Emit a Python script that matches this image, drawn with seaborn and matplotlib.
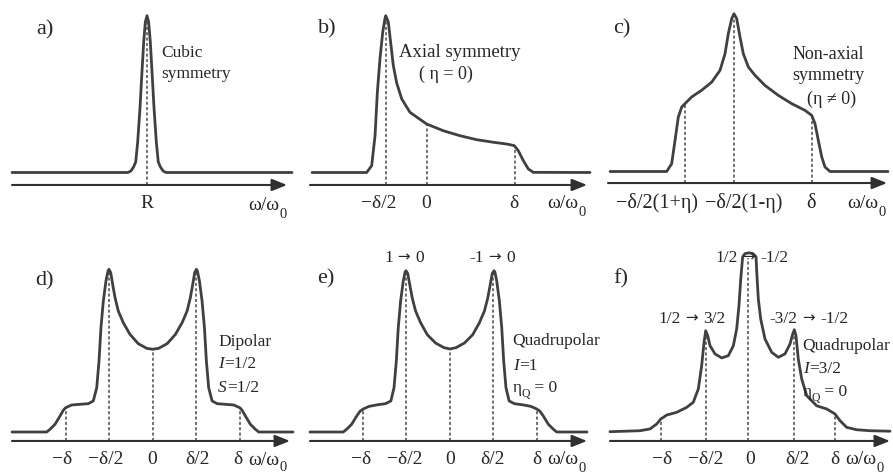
import matplotlib
matplotlib.use("Agg")
import matplotlib.pyplot as plt
import seaborn as sns

sns.set_style("white")
plt.rcParams["font.family"] = ["Liberation Serif", "DejaVu Serif"]

# ---------------- data (x in units of delta, y = relative intensity) ----------------
a_x = [-1.534, -0.216, -0.182, -0.153, -0.128, -0.106, -0.080, -0.060, -0.0375, -0.019, 0.0,
       0.019, 0.0375, 0.060, 0.080, 0.106, 0.128, 0.153, 0.182, 0.216, 1.648]
a_y = [0, 0, 0.01, 0.034, 0.066, 0.19, 0.40, 0.60, 0.816, 0.94, 0.98,
       0.94, 0.816, 0.60, 0.40, 0.19, 0.066, 0.034, 0.01, 0, 0]
a_marks = [0.0]
a_marks_top = [0.98]
a_ticks = ["R"]

b_x = [-1.303, -0.682, -0.625, -0.587, -0.561, -0.531, -0.500, -0.475, -0.465, -0.436, -0.409,
       -0.380, -0.341, -0.284, -0.190, 0.0, 0.189, 0.378, 0.568, 0.757, 0.909, 0.995, 1.040,
       1.098, 1.155, 1.211, 1.856]
b_y = [0, 0, 0.043, 0.23, 0.50, 0.71, 0.876, 0.96, 0.98, 0.94, 0.81,
       0.67, 0.56, 0.46, 0.376, 0.303, 0.261, 0.23, 0.205, 0.189, 0.178, 0.168, 0.137,
       0.074, 0.022, 0.001, 0]
b_marks = [-0.466, 0.0, 1.0]
b_marks_top = [0.98, 0.303, 0.168]
b_ticks = ["\u2212\u03b4/2", "0", "\u03b4"]

c_x = [-1.409, -0.765, -0.708, -0.670, -0.633, -0.594, -0.557, -0.481, -0.367, -0.253, -0.159,
       -0.102, -0.065, -0.026, 0.0, 0.031, 0.068, 0.106, 0.163, 0.239, 0.352, 0.503, 0.656,
       0.807, 0.883, 0.920, 0.958, 0.997, 1.034, 1.091, 1.75]
c_y = [0, 0, 0.049, 0.195, 0.34, 0.403, 0.424, 0.466, 0.508, 0.559, 0.632,
       0.736, 0.861, 0.955, 0.986, 0.955, 0.841, 0.736, 0.653, 0.601, 0.538, 0.476, 0.424,
       0.382, 0.351, 0.30, 0.195, 0.091, 0.028, 0, 0]
c_marks = [-0.557, 0.0, 0.89]
c_marks_top = [0.424, 0.986, 0.351]
c_ticks = ["\u2212\u03b4/2(1+\u03b7)", "\u2212\u03b4/2(1-\u03b7)", "\u03b4"]

d_x = [-1.599, -1.205, -1.167, -1.110, -1.053, -1.016, -0.989, -0.920, -0.826, -0.732, -0.675,
       -0.636, -0.610, -0.588, -0.561, -0.531, -0.508, -0.497, -0.477, -0.455, -0.428, -0.391,
       -0.334, -0.258, -0.164, -0.068, 0.0, 0.068, 0.164, 0.258, 0.334, 0.391, 0.428, 0.455,
       0.477, 0.497, 0.508, 0.531, 0.561, 0.588, 0.610, 0.636, 0.675, 0.732, 0.826, 0.920,
       0.989, 1.016, 1.053, 1.110, 1.167, 1.205, 1.594]
d_y = [0, 0, 0.017, 0.048, 0.10, 0.136, 0.152, 0.169, 0.173, 0.177, 0.194,
       0.277, 0.444, 0.652, 0.819, 0.944, 1.006, 1.017, 0.996, 0.923, 0.840, 0.756,
       0.683, 0.610, 0.552, 0.523, 0.517, 0.523, 0.552, 0.610, 0.683, 0.756, 0.840, 0.923,
       0.996, 1.017, 1.006, 0.944, 0.819, 0.652, 0.444, 0.277, 0.194, 0.177, 0.173, 0.169,
       0.152, 0.136, 0.10, 0.048, 0.017, 0, 0]
d_marks = [-0.989, -0.497, 0.0, 0.497, 0.989]
d_marks_top = [0.152, 1.017, 0.517, 1.017, 0.152]
d_ticks = ["\u2212\u03b4", "\u2212\u03b4/2", "0", "\u03b4/2", "\u03b4"]

e_x = [-1.591, -1.213, -1.175, -1.118, -1.060, -1.022, -0.985, -0.920, -0.826, -0.732, -0.672,
       -0.636, -0.610, -0.588, -0.561, -0.531, -0.510, -0.500, -0.480, -0.455, -0.428, -0.391,
       -0.334, -0.258, -0.164, -0.068, 0.0, 0.068, 0.164, 0.258, 0.334, 0.391, 0.428, 0.455,
       0.480, 0.500, 0.510, 0.531, 0.561, 0.588, 0.610, 0.636, 0.672, 0.732, 0.826, 0.920,
       0.985, 1.022, 1.060, 1.118, 1.175, 1.213, 1.557]
e_y = [0, 0, 0.017, 0.048, 0.10, 0.130, 0.144, 0.160, 0.170, 0.177, 0.194,
       0.277, 0.444, 0.652, 0.819, 0.944, 1.000, 1.008, 0.990, 0.914, 0.835, 0.756,
       0.683, 0.608, 0.556, 0.527, 0.519, 0.527, 0.556, 0.608, 0.683, 0.756, 0.835, 0.914,
       0.990, 1.008, 1.000, 0.944, 0.819, 0.652, 0.444, 0.277, 0.194, 0.177, 0.170, 0.160,
       0.144, 0.130, 0.10, 0.048, 0.017, 0, 0]
e_marks = [-0.985, -0.500, 0.0, 0.490, 0.990]
e_marks_top = [0.144, 1.008, 0.519, 1.008, 0.144]
e_ticks = ["\u2212\u03b4", "\u2212\u03b4/2", "0", "\u03b4/2", "\u03b4"]

f_x = [-1.580, -1.239, -1.125, -1.049, -1.003, -0.935, -0.822, -0.708, -0.633, -0.576, -0.538,
       -0.511, -0.492, -0.469, -0.443, -0.386, -0.310, -0.235, -0.178, -0.140, -0.114, -0.094,
       -0.076, -0.072, -0.045, 0.0, 0.045, 0.080, 0.088, 0.106, 0.133, 0.182, 0.258, 0.333,
       0.409, 0.466, 0.497, 0.515, 0.534, 0.560, 0.599, 0.656, 0.769, 0.883, 0.977, 1.034,
       1.110, 1.224, 1.375, 1.602]
f_y = [0.002, 0.008, 0.019, 0.05, 0.081, 0.106, 0.123, 0.154, 0.186, 0.269, 0.414,
       0.560, 0.633, 0.602, 0.539, 0.488, 0.463, 0.477, 0.539, 0.644, 0.789, 0.956,
       1.070, 1.095, 1.115, 1.12, 1.115, 1.095, 1.0, 0.831, 0.706, 0.581, 0.498, 0.467,
       0.488, 0.55, 0.613, 0.639, 0.602, 0.456, 0.331, 0.227, 0.164, 0.144, 0.113, 0.071,
       0.029, 0.014, 0.008, 0.005]
f_marks = [-1.003, -0.492, -0.008, 0.515, 0.977]
f_marks_top = [0.081, 0.633, 1.09, 0.639, 0.113]
f_ticks = ["\u2212\u03b4", "\u2212\u03b4/2", "0", "\u03b4/2", "\u03b4"]

# ---------------- layout ----------------
W, H = 893, 477
SX, SY = 88.0, 160.0
CURVE = "#404040"
DASH = "#4a4a4a"
AXC = "#303030"
TXT = "#262626"
FAM = ["Liberation Serif", "DejaVu Serif"]
ARW = ["DejaVu Sans"]

fig = plt.figure(figsize=(W / 100, H / 100), dpi=100)
fig.patch.set_facecolor("white")
renderer = fig.canvas.get_renderer()

panels = [
    dict(box=(0, 0, 298, 238), cx=147, by=173.5, x=a_x, y=a_y, m=a_marks, t=a_marks_top,
         ar=(-1.534, 1.591), ay=-0.078),
    dict(box=(298, 0, 598, 238), cx=426.7, by=173.5, x=b_x, y=b_y, m=b_marks, t=b_marks_top,
         ar=(-1.326, 1.822), ay=-0.078),
    dict(box=(598, 0, 893, 238), cx=734, by=172.5, x=c_x, y=c_y, m=c_marks, t=c_marks_top,
         ar=(-1.432, 1.739), ay=-0.072),
    dict(box=(0, 238, 298, 477), cx=152.7, by=433, x=d_x, y=d_y, m=d_marks, t=d_marks_top,
         ar=(-1.599, 1.560), ay=-0.056),
    dict(box=(298, 238, 598, 477), cx=450, by=433, x=e_x, y=e_y, m=e_marks, t=e_marks_top,
         ar=(-1.591, 1.557), ay=-0.056),
    dict(box=(598, 238, 893, 477), cx=749, by=433, x=f_x, y=f_y, m=f_marks, t=f_marks_top,
         ar=(-1.580, 1.602), ay=-0.056),
]

for p in panels:
    x0, y0, x1, y1 = p["box"]
    ax = fig.add_axes([x0 / W, 1 - y1 / H, (x1 - x0) / W, (y1 - y0) / H])
    ax.set_xlim((x0 - p["cx"]) / SX, (x1 - p["cx"]) / SX)
    ax.set_ylim((p["by"] - y1) / SY, (p["by"] - y0) / SY)
    ax.axis("off")
    ax.vlines(p["m"], p["ay"], p["t"], colors=DASH, linestyles=(0, (2.0, 1.5)),
              linewidth=1.1, zorder=2)
    sns.lineplot(x=p["x"], y=p["y"], ax=ax, color=CURVE, linewidth=2.0, sort=False,
                 estimator=None, zorder=3)
    for ln in ax.lines:
        ln.set_clip_on(False)
        ln.set_solid_joinstyle("round")
    ax.annotate("", xy=(p["ar"][1], p["ay"]), xytext=(p["ar"][0], p["ay"]),
                arrowprops=dict(arrowstyle="-|>,head_length=0.65,head_width=0.26",
                                mutation_scale=14, color=AXC, lw=1.5,
                                shrinkA=0, shrinkB=0),
                annotation_clip=False)


def rich(x, y, parts, ha="left"):
    """parts: (text, size, style, dy_px[, family]); x,y in figure px (y = baseline, from top)."""
    objs = []
    for part in parts:
        s, size, style, dy = part[:4]
        fam = part[4] if len(part) > 4 else FAM
        t = fig.text(0, 0, s, fontsize=size, fontstyle=style, color=TXT, family=fam,
                     va="baseline", ha="left", zorder=5)
        w = t.get_window_extent(renderer).width
        objs.append((t, dy, w))
    total = sum(o[2] for o in objs)
    cur = x - total / 2 if ha == "center" else x
    for t, dy, w in objs:
        t.set_position((cur / W, 1 - (y + dy) / H))
        cur += w


def plain(x, y, s, size, ha="left", style="normal"):
    rich(x, y, [(s, size, style, 0)], ha=ha)


def omega(x, y, sub_dy=8):
    rich(x, y, [("\u03c9/\u03c9", 14, "normal", 0), ("0", 10.5, "normal", sub_dy)])


def eta_q(x, y):
    rich(x, y, [("\u03b7", 12.5, "normal", 0), ("Q", 8.5, "normal", 5), (" = 0", 12.5, "normal", 0)])


def trans(x, y, left, right):
    rich(x, y, [(left, 12.5, "normal", 0), (" \u2192 ", 11, "normal", -0.5, ARW),
                (right, 12.5, "normal", 0)], ha="center")


TS = 14      # tick label size
AS = 12.5    # annotation size
PS = 16      # panel letter size

# panel a
plain(36, 34, "a)", PS)
plain(161, 57, "Cubic", AS)
plain(161, 78, "symmetry", AS)
plain(147, 208, a_ticks[0], TS, ha="center")
omega(248, 210)

# panel b
plain(318, 33, "b)", PS)
plain(460, 57, "Axial symmetry", 13.5, ha="center")
plain(446, 79, "( \u03b7 = 0)", 13, ha="center")
for s, xc in zip(b_ticks, [379, 426, 514]):
    plain(xc, 208, s, TS, ha="center")
omega(547, 208)

# panel c
plain(613, 33, "c)", PS)
plain(828, 59, "Non-axial", 13, ha="center")
plain(828, 80, "symmetry", 13, ha="center")
plain(832, 104, "(\u03b7 \u2260 0)", 13, ha="center")
for s, xc in zip(c_ticks, [657, 744, 811]):
    plain(xc, 208, s, 14.5, ha="center")
omega(847, 208)

# panel d
plain(35, 285, "d)", PS)
plain(218, 346, "Dipolar", AS)
rich(218, 368, [("I", AS, "italic", 0), ("=1/2", AS, "normal", 0)])
rich(218, 392, [("S", AS, "italic", 0), ("=1/2", AS, "normal", 0)])
for s, xc in zip(d_ticks, [62, 106, 152, 197, 238]):
    plain(xc, 464, s, TS, ha="center")
omega(248, 465, sub_dy=6)

# panel e
plain(317, 283, "e)", PS)
trans(404, 262, "1", "0")
trans(492, 262, "-1", "0")
plain(512, 345, "Quadrupolar", AS)
rich(513, 370, [("I", AS, "italic", 0), ("=1", AS, "normal", 0)])
eta_q(513, 392)
for s, xc in zip(e_ticks, [361, 405, 450, 493, 537]):
    plain(xc, 464, s, TS, ha="center")
omega(547, 464)

# panel f
plain(613, 283, "f)", PS)
trans(752, 262, "1/2", "-1/2")
trans(692, 323, "1/2", "3/2")
trans(809, 323, "-3/2", "-1/2")
plain(802, 350, "Quadrupolar", AS)
rich(803, 373, [("I", AS, "italic", 0), ("=3/2", AS, "normal", 0)])
eta_q(803, 396)
for s, xc in zip(f_ticks, [662, 706, 750, 797, 835]):
    plain(xc, 464, s, TS, ha="center")
omega(845, 464)

fig.savefig("out.png", dpi=100, facecolor="white")
